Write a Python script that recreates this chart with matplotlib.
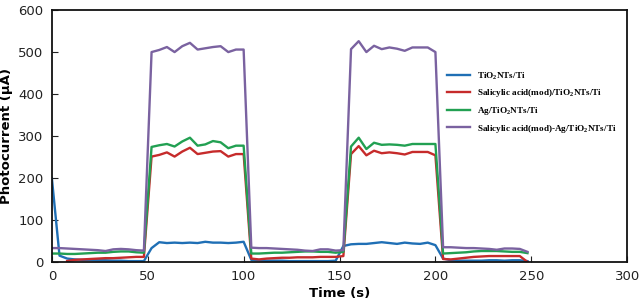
import numpy as np
import matplotlib
matplotlib.use("Agg")
import matplotlib.pyplot as plt

# time axis (s), one reading every 4 s
time = list(range(0, 252, 4))

tio2 = [200, 15, 8, 6, 5, 5, 4, 4, 3, 3, 2, 2, 2,
        33, 47, 45, 46, 45, 46, 45, 48, 46, 46, 45, 46, 48,
        5, 4, 3, 3, 3, 2, 2, 2, 2, 2, 2, 3,
        38, 42, 43, 43, 45, 47, 45, 43, 46, 44, 43, 46, 40,
        8, 4, 3, 3, 3, 3, 4, 4, 3, 4, 4, 2]

sal_tio2 = [np.nan, np.nan, 2, 5, 6, 7, 8, 9, 9, 10, 11, 12, 12,
            251, 255, 261, 251, 263, 272, 257, 260, 263, 264, 251, 257, 257,
            8, 6, 8, 9, 10, 10, 11, 11, 11, 12, 12, 12,
            14, 257, 276, 254, 265, 259, 261, 259, 256, 262, 262, 262, 254,
            7, 6, 8, 10, 12, 13, 14, 14, 14, 14, 14, 0]

ag_tio2 = [20, 20, 19, 19, 20, 21, 22, 22, 24, 25, 25, 23, 22,
           274, 278, 281, 275, 287, 296, 277, 280, 288, 285, 271, 277, 277,
           20, 20, 21, 22, 22, 23, 24, 25, 25, 24, 24, 22,
           24, 275, 296, 269, 284, 279, 280, 279, 277, 281, 281, 281, 281,
           20, 21, 22, 23, 25, 26, 26, 26, 25, 24, 24, 21]

sal_ag_tio2 = [33, 33, 32, 31, 30, 29, 28, 26, 30, 31, 30, 28, 27,
               500, 505, 512, 500, 514, 522, 506, 509, 512, 514, 500, 506, 506,
               34, 33, 33, 32, 31, 30, 29, 27, 26, 30, 30, 27,
               28, 507, 526, 500, 515, 507, 511, 508, 503, 511, 511, 511, 500,
               35, 35, 34, 33, 33, 32, 31, 29, 32, 32, 31, 24]

labels = [r"TiO$_\mathbf{2}$NTs/Ti",
          r"Salicylic acid(mod)/TiO$_\mathbf{2}$NTs/Ti",
          r"Ag/TiO$_\mathbf{2}$NTs/Ti",
          r"Salicylic acid(mod)-Ag/TiO$_\mathbf{2}$NTs/Ti"]
colors = ["#1f6fb5", "#c62b2b", "#22a052", "#7a62a0"]

plt.rcParams["font.family"] = "DejaVu Sans"
plt.rcParams["mathtext.fontset"] = "custom"
plt.rcParams["mathtext.rm"] = "Liberation Serif:bold"
plt.rcParams["mathtext.bf"] = "Liberation Serif:bold"

fig = plt.figure(figsize=(6.4, 3.06), dpi=100)
ax = fig.add_axes([0.081, 0.144, 0.899, 0.823])

for ys, lab, c in zip([tio2, sal_tio2, ag_tio2, sal_ag_tio2], labels, colors):
    ax.plot(time, ys, color=c, lw=1.7, label=lab)

ax.set_xlim(0, 300)
ax.set_ylim(0, 600)
ax.set_xticks(range(0, 301, 50))
ax.set_yticks(range(0, 601, 100))
ax.tick_params(direction="in", length=4, labelsize=9.5, colors="#222222", pad=6)
for s in ax.spines.values():
    s.set_linewidth(1.3)
    s.set_color("#111111")

ax.set_xlabel("Time (s)", fontsize=9.5, fontweight="bold", labelpad=3)
ax.set_ylabel("Photocurrent (\u03bcA)", fontsize=9.5, fontweight="bold", labelpad=4)

leg = ax.legend(loc="upper left", bbox_to_anchor=(0.687, 0.762), frameon=False,
                prop={"family": "Liberation Serif", "weight": "bold", "size": 6.6},
                handlelength=2.5, labelspacing=0.62, handletextpad=0.75,
                borderpad=0, borderaxespad=0)

fig.savefig("out.png", dpi=100)
